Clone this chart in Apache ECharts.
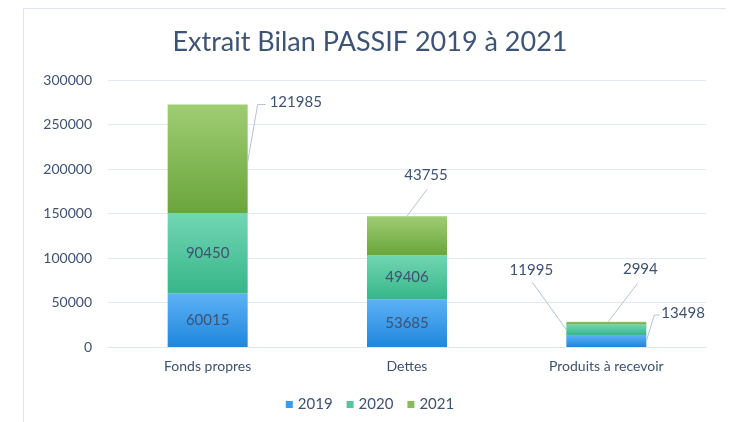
<!DOCTYPE html>
<html>
<head>
<meta charset="utf-8">
<script src="https://cdn.jsdelivr.net/npm/echarts@6/dist/echarts.min.js"></script>
<style>
  html, body { margin: 0; padding: 0; background: #ffffff; }
  #chart { width: 740px; height: 422px; }
</style>
</head>
<body>
<div id="chart"></div>
<script>
// Balance sheet excerpt (liabilities), stacked by year
const categories = ['Fonds propres', 'Dettes', 'Produits à recevoir'];
const years = ['2019', '2020', '2021'];
const values2019 = [60015, 53685, 13498];
const values2020 = [90450, 49406, 11995];
const values2021 = [121985, 43755, 2994];
const yTicks = [0, 50000, 100000, 150000, 200000, 250000, 300000];

const textColor = '#3f5272';
const font = 'Lato, "Open Sans", sans-serif';
const BAR_W = 80;

function grad(top, bottom) {
  return new echarts.graphic.LinearGradient(0, 0, 0, 1, [
    { offset: 0, color: top },
    { offset: 1, color: bottom }
  ]);
}

const colors = [
  grad('#5db1f6', '#1f87dc'),
  grad('#72d6b3', '#37b68a'),
  grad('#9fcd72', '#6aa53c')
];
const legendColors = ['#3a9bea', '#52c79e', '#86bd55'];

// Labels drawn outside their segment, joined to it by a leader line.
// Label anchor and leader points are offsets from the segment rectangle:
// ref 'left' | 'center' | 'right' picks the x base, y is from the segment top
// (or a fraction fy of its height).
const outside = {
  '2-0': { label: { ref: 'right', dx: 22, dy: -2, align: 'left' },
           line: [{ ref: 'right', dx: 0, fy: 0.53 }, { ref: 'right', dx: 10, dy: 0 }, { ref: 'right', dx: 18, dy: 0 }] },
  '2-1': { label: { ref: 'center', dx: 19, dy: -41, align: 'center' },
           line: [{ ref: 'center', dx: 0, dy: 0 }, { ref: 'center', dx: 20, dy: -27 }] },
  '0-2': { label: { ref: 'right', dx: 15, dy: -22, align: 'left' },
           line: [{ ref: 'right', dx: 0, fy: 0.5 }, { ref: 'right', dx: 8, dy: -20 }, { ref: 'right', dx: 13, dy: -20 }] },
  '1-2': { label: { ref: 'left', dx: -35, dy: -54, align: 'center' },
           line: [{ ref: 'left', dx: 0, fy: 0.5 }, { ref: 'left', dx: -34, dy: -42 }] },
  '2-2': { label: { ref: 'center', dx: 34, dy: -52, align: 'center' },
           line: [{ ref: 'center', dx: 2, dy: 0 }, { ref: 'center', dx: 31, dy: -38 }] }
};

function baseX(r, ref) {
  if (ref === 'right') return r.x + r.width;
  if (ref === 'left') return r.x;
  return r.x + r.width / 2;
}

function labelLayout(params) {
  const o = outside[params.seriesIndex + '-' + params.dataIndex];
  if (!o) return {};
  const r = params.rect;
  return {
    x: baseX(r, o.label.ref) + o.label.dx,
    y: r.y + o.label.dy,
    align: o.label.align,
    verticalAlign: 'middle'
  };
}

const seriesValues = [values2019, values2020, values2021];

const series = seriesValues.map((vals, si) => ({
  name: years[si],
  type: 'bar',
  stack: 'total',
  barWidth: BAR_W,
  itemStyle: { color: colors[si] },
  label: {
    show: true,
    position: 'inside',
    color: textColor,
    fontFamily: font,
    fontSize: 15,
    letterSpacing: 1.5
  },
  labelLayout: labelLayout,
  emphasis: { disabled: true },
  data: vals.slice()
}));

const chart = echarts.init(document.getElementById('chart'), null, { renderer: 'canvas' });
chart.setOption({
  animation: false,
  backgroundColor: '#ffffff',
  color: legendColors,
  title: {
    text: 'Extrait Bilan PASSIF 2019 à 2021',
    left: 'center',
    top: 24,
    textStyle: {
      color: '#3e5476',
      fontFamily: font,
      fontSize: 27,
      fontWeight: 'normal',
      letterSpacing: 2
    }
  },
  legend: {
    bottom: 5,
    left: 'center',
    itemWidth: 7,
    itemHeight: 7,
    itemGap: 14,
    icon: 'rect',
    textStyle: { color: textColor, fontFamily: font, fontSize: 15, letterSpacing: 1 },
    data: years.map((y, i) => ({ name: y, itemStyle: { color: legendColors[i] } }))
  },
  grid: { left: 108, right: 34, top: 80, bottom: 75 },
  xAxis: {
    type: 'category',
    data: categories,
    axisLine: { lineStyle: { color: '#dfe5f1' } },
    axisTick: { show: false },
    axisLabel: { color: textColor, fontFamily: font, fontSize: 14, letterSpacing: 0.5, margin: 12 }
  },
  yAxis: {
    type: 'value',
    min: yTicks[0],
    max: yTicks[yTicks.length - 1],
    interval: yTicks[1] - yTicks[0],
    axisLine: { show: false },
    axisTick: { show: false },
    splitLine: { lineStyle: { color: '#e3e9f4' } },
    axisLabel: {
      color: textColor, fontFamily: font, fontSize: 14, letterSpacing: 1, margin: 16,
      formatter: (v) => String(v)
    }
  },
  series: series
});

// Leader lines and frame, positioned through the chart's own axes
function segmentRect(si, di) {
  let below = 0;
  for (let k = 0; k < si; k++) below += seriesValues[k][di];
  const top = below + seriesValues[si][di];
  const pTop = chart.convertToPixel({ gridIndex: 0 }, [di, top]);
  const pBot = chart.convertToPixel({ gridIndex: 0 }, [di, below]);
  return { x: pTop[0] - BAR_W / 2, y: pTop[1], width: BAR_W, height: pBot[1] - pTop[1] };
}

const graphics = [
  { type: 'line', shape: { x1: 23.5, y1: 8.5, x2: 726, y2: 8.5 }, style: { stroke: '#dfe4f5', lineWidth: 1 }, silent: true },
  { type: 'line', shape: { x1: 23.5, y1: 8.5, x2: 23.5, y2: 422 }, style: { stroke: '#dfe4f5', lineWidth: 1 }, silent: true }
];
Object.keys(outside).forEach((key) => {
  const [si, di] = key.split('-').map(Number);
  const r = segmentRect(si, di);
  const pts = outside[key].line.map((p) => [
    baseX(r, p.ref) + p.dx,
    p.fy !== undefined ? r.y + r.height * p.fy : r.y + p.dy
  ]);
  graphics.push({
    type: 'polyline',
    shape: { points: pts },
    style: { stroke: '#b4c3dc', lineWidth: 1, fill: null },
    silent: true,
    z: 10
  });
});
chart.setOption({ graphic: graphics });
</script>
</body>
</html>
